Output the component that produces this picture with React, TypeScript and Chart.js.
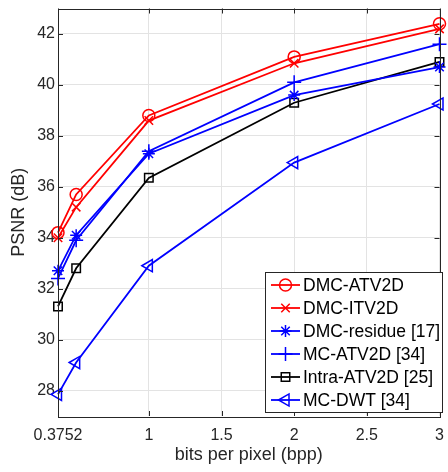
import React, { useEffect, useRef } from 'react';
import { Chart, registerables } from 'chart.js';

Chart.register(...registerables);

const xValues = [0.375, 0.5, 1, 2, 3];
const dmcAtv2d = [34.2, 35.7, 38.8, 41.1, 42.4];
const dmcItv2d = [34.0, 35.2, 38.6, 40.85, 42.2];
const dmcResidue = [32.7, 34.1, 37.3, 39.6, 40.7];
const mcAtv2d = [32.4, 33.9, 37.4, 40.1, 41.6];
const intraAtv2d = [31.3, 32.8, 36.35, 39.3, 40.9];
const mcDwt = [27.85, 29.1, 32.9, 36.95, 39.25];

const seriesNames = ['DMC-ATV2D', 'DMC-ITV2D', 'DMC-residue [17]', 'MC-ATV2D [34]', 'Intra-ATV2D [25]', 'MC-DWT [34]'];
const xTicks = [0.375, 1, 1.5, 2, 2.5, 3];
const xTickLabels = ['0.3752', '1', '1.5', '2', '2.5', '3'];
const yTicks = [28, 30, 32, 34, 36, 38, 40, 42];

const FONT = '"Liberation Sans", Arial, Helvetica, sans-serif';
const AXIS_COLOR = '#262626';

const styles = [
  { color: '#ff0000', point: 'circle', radius: 6, rotation: 0 },
  { color: '#ff0000', point: 'crossRot', radius: 6, rotation: 0 },
  { color: '#0000ff', point: 'star', radius: 6, rotation: 0 },
  { color: '#0000ff', point: 'cross', radius: 7, rotation: 0 },
  { color: '#000000', point: 'rect', radius: 6, rotation: 0 },
  { color: '#0000ff', point: 'triangle', radius: 7, rotation: -90 },
];

const allSeries = [dmcAtv2d, dmcItv2d, dmcResidue, mcAtv2d, intraAtv2d, mcDwt];

function drawMarker(ctx: CanvasRenderingContext2D, kind: string, r: number, x: number, y: number) {
  ctx.beginPath();
  if (kind === 'circle') {
    ctx.arc(x, y, r, 0, Math.PI * 2);
  } else if (kind === 'crossRot') {
    const d = r * Math.SQRT1_2;
    ctx.moveTo(x - d, y - d); ctx.lineTo(x + d, y + d);
    ctx.moveTo(x - d, y + d); ctx.lineTo(x + d, y - d);
  } else if (kind === 'star') {
    const d = r * Math.SQRT1_2;
    ctx.moveTo(x - d, y - d); ctx.lineTo(x + d, y + d);
    ctx.moveTo(x - d, y + d); ctx.lineTo(x + d, y - d);
    ctx.moveTo(x, y - r); ctx.lineTo(x, y + r);
    ctx.moveTo(x - r, y); ctx.lineTo(x + r, y);
  } else if (kind === 'cross') {
    ctx.moveTo(x, y - r); ctx.lineTo(x, y + r);
    ctx.moveTo(x - r, y); ctx.lineTo(x + r, y);
  } else if (kind === 'rect') {
    const s = r * Math.SQRT1_2;
    ctx.rect(x - s, y - s, 2 * s, 2 * s);
  } else if (kind === 'triangleLeft') {
    ctx.moveTo(x - r, y);
    ctx.lineTo(x + r * 0.5, y - r * 0.866);
    ctx.lineTo(x + r * 0.5, y + r * 0.866);
    ctx.closePath();
  }
  ctx.stroke();
}

const boxPlugin = {
  id: 'matlabBox',
  afterDatasetsDraw(chart: any) {
    const { ctx, chartArea } = chart;
    const { left, right, top, bottom } = chartArea;
    const xs = chart.scales.x;
    const ys = chart.scales.y;
    ctx.save();
    ctx.strokeStyle = AXIS_COLOR;
    ctx.lineWidth = 1;
    const tl = 5;
    ctx.beginPath();
    xTicks.forEach((v) => {
      const px = Math.round(xs.getPixelForValue(v)) + 0.5;
      ctx.moveTo(px, bottom);
      ctx.lineTo(px, bottom - tl);
      ctx.moveTo(px, top);
      ctx.lineTo(px, top + tl);
    });
    yTicks.forEach((v) => {
      const py = Math.round(ys.getPixelForValue(v)) + 0.5;
      ctx.moveTo(left, py);
      ctx.lineTo(left + tl, py);
      ctx.moveTo(right, py);
      ctx.lineTo(right - tl, py);
    });
    ctx.stroke();
    ctx.strokeRect(Math.round(left) + 0.5, Math.round(top) + 0.5, Math.round(right - left), Math.round(bottom - top));
    ctx.restore();
  },
  afterDraw(chart: any) {
    const { ctx } = chart;
    const bx = 265.5, by = 272.5, bw = 177, bh = 140;
    ctx.save();
    ctx.fillStyle = '#ffffff';
    ctx.fillRect(bx, by, bw, bh);
    ctx.strokeStyle = AXIS_COLOR;
    ctx.lineWidth = 1;
    ctx.strokeRect(bx, by, bw, bh);
    ctx.font = `17.5px ${FONT}`;
    ctx.textBaseline = 'middle';
    ctx.textAlign = 'left';
    seriesNames.forEach((name, i) => {
      const st = styles[i];
      const cy = 285 + i * 23;
      ctx.strokeStyle = st.color;
      ctx.lineWidth = 1.8;
      ctx.beginPath();
      ctx.moveTo(271, cy);
      ctx.lineTo(300, cy);
      ctx.stroke();
      ctx.lineWidth = 1.5;
      drawMarker(ctx, st.rotation === -90 ? 'triangleLeft' : st.point, st.radius, 285.5, cy);
      ctx.fillStyle = '#000000';
      ctx.fillText(name, 303, cy + 1);
    });
    ctx.restore();
  },
};

export default function App() {
  const ref = useRef<HTMLCanvasElement>(null);
  useEffect(() => {
    document.body.style.margin = '0';
    const canvas = ref.current!;
    const chart = new Chart(canvas, {
      type: 'line',
      data: {
        datasets: allSeries.map((vals, i) => ({
          label: seriesNames[i],
          data: vals.map((y, j) => ({ x: xValues[j], y })),
          borderColor: styles[i].color,
          backgroundColor: 'rgba(0,0,0,0)',
          pointBorderColor: styles[i].color,
          pointBackgroundColor: 'rgba(0,0,0,0)',
          borderWidth: 1.8,
          pointBorderWidth: 1.5,
          pointStyle: styles[i].point as any,
          pointRadius: styles[i].radius,
          pointRotation: styles[i].rotation,
          tension: 0,
          clip: 12,
        })),
      },
      options: {
        animation: false,
        responsive: false,
        maintainAspectRatio: false,
        layout: { padding: { top: 5, right: 3, left: 0, bottom: 0 } },
        plugins: { legend: { display: false }, tooltip: { enabled: false } },
        scales: {
          x: {
            type: 'linear',
            min: 0.375,
            max: 3,
            afterBuildTicks: (s: any) => {
              s.ticks = xTicks.map((v) => ({ value: v }));
            },
            afterFit: (s: any) => {
              s.height = 56;
              s.paddingLeft = 0;
              s.paddingRight = 0;
              s.paddingTop = 0;
              s.paddingBottom = 0;
            },
            ticks: {
              autoSkip: false,
              maxRotation: 0,
              color: AXIS_COLOR,
              font: { family: FONT, size: 16 },
              padding: 10,
              callback: (v: any) => {
                const idx = xTicks.indexOf(Number(v));
                return idx >= 0 ? xTickLabels[idx] : '';
              },
            },
            grid: { color: '#e3e3e3', drawTicks: false, lineWidth: 1 },
            border: { display: false },
            title: {
              display: true,
              text: 'bits per pixel (bpp)',
              color: AXIS_COLOR,
              font: { family: FONT, size: 18 },
              padding: { top: 0, bottom: 6 },
            },
          },
          y: {
            type: 'linear',
            min: 27,
            max: 43,
            afterBuildTicks: (s: any) => {
              s.ticks = yTicks.map((v) => ({ value: v }));
            },
            afterFit: (s: any) => {
              s.width = 58;
              s.paddingLeft = 0;
              s.paddingRight = 0;
              s.paddingTop = 0;
              s.paddingBottom = 0;
            },
            ticks: {
              autoSkip: false,
              color: AXIS_COLOR,
              font: { family: FONT, size: 16 },
              padding: 3,
            },
            grid: { color: '#e3e3e3', drawTicks: false, lineWidth: 1 },
            border: { display: false },
            title: {
              display: true,
              text: 'PSNR (dB)',
              color: AXIS_COLOR,
              font: { family: FONT, size: 18 },
              padding: { top: 8, bottom: 0 },
            },
          },
        },
      },
      plugins: [boxPlugin],
    });
    return () => chart.destroy();
  }, []);
  return (
    <div style={{ position: 'absolute', left: 0, top: 0, width: 448, height: 472 }}>
      <canvas ref={ref} width={448} height={472} style={{ width: 448, height: 472 }} />
    </div>
  );
}
